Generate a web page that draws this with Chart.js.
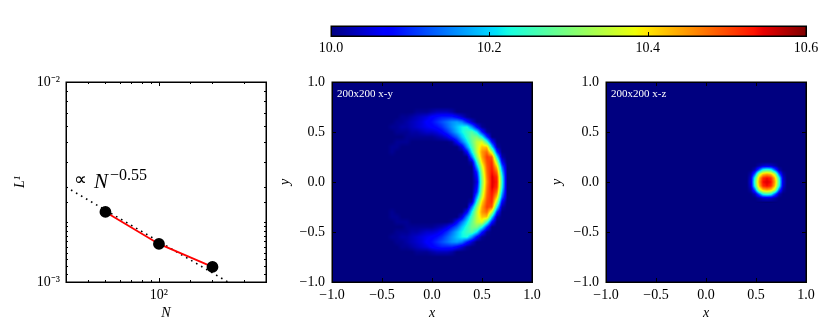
<!DOCTYPE html>
<html>
<head>
<meta charset="utf-8">
<title>L1 convergence and slices</title>
<script src="https://cdn.jsdelivr.net/npm/chart.js@4"></script>
<style>
  body { margin: 0; background: #fff; }
  canvas { position: absolute; }
</style>
</head>
<body>
<canvas id="cbar" width="530" height="60" style="left:300px;top:10px"></canvas>
<canvas id="conv" width="280" height="272" style="left:0;top:60px"></canvas>
<canvas id="xy" width="280" height="272" style="left:270px;top:60px"></canvas>
<canvas id="xz" width="285" height="272" style="left:545px;top:60px"></canvas>
<script>
// convergence panel
const resolutions = [50, 100, 200];
const l1Errors = [2.24e-3, 1.55e-3, 1.19e-3];
const fitN = [30, 285];
const fitL = [2.985e-3, 0.923e-3];
const convXTicks = [100];
const convXLabels = ['10²'];
const convYTicks = [1e-3, 1e-2];
const convYLabels = ['10⁻³', '10⁻²'];

// colorbar
const cbarTicks = [10, 10.2, 10.4, 10.6];
const cbarLabels = ['10.0', '10.2', '10.4', '10.6'];

// slice panels
const sliceLabels = ['−1.0', '−0.5', '0.0', '0.5', '1.0'];

// x-y slice, hundredths above 10.0
const crescentX = [-0.45,-0.40,-0.35,-0.30,-0.25,-0.20,-0.15,-0.10,-0.05,0,0.05,0.10,0.15,0.20,0.25,0.30,0.35,0.40,0.45,0.50,0.55,0.60,0.65,0.70,0.75];
const crescentY = [0.75,0.70,0.65,0.60,0.55,0.50,0.45,0.40,0.35,0.30,0.25,0.20,0.15,0.10,0.05,0,-0.05,-0.10,-0.15,-0.20,-0.25,-0.30,-0.35,-0.40,-0.45,-0.50,-0.55,-0.60,-0.65,-0.70,-0.75];
const crescentRows = [
  [0,0,0,0,0,0,0,0,0,0,0,0,0,0,0,0,0,0,0,0,0,0,0,0,0],
  [0,0,0,0,0,0,1,1,1,2,3,3,3,2,0,0,0,0,0,0,0,0,0,0,0],
  [0,0,0,1,1,2,3,4,5,7,8,9,9,9,7,4,1,0,0,0,0,0,0,0,0],
  [0,0,1,1,2,3,4,5,7,8,10,12,14,16,17,15,9,4,0,0,0,0,0,0,0],
  [0,1,1,2,2,3,4,5,6,7,8,10,13,16,19,22,23,16,7,1,0,0,0,0,0],
  [0,0,1,1,1,2,2,3,4,4,5,7,10,14,18,22,25,27,21,9,1,0,0,0,0],
  [0,0,0,0,1,1,1,1,1,1,2,3,5,9,13,19,24,29,30,23,10,0,0,0,0],
  [0,0,1,1,1,0,0,0,0,0,0,0,0,1,7,14,21,28,35,37,25,8,0,0,0],
  [0,1,1,0,0,0,0,0,0,0,0,0,0,0,0,5,16,26,35,42,42,20,2,0,0],
  [0,1,0,0,0,0,0,0,0,0,0,0,0,0,0,0,7,22,35,45,48,35,10,0,0],
  [0,0,0,0,0,0,0,0,0,0,0,0,0,0,0,0,0,14,31,44,51,49,22,2,0],
  [0,0,0,0,0,0,0,0,0,0,0,0,0,0,0,0,0,3,24,41,50,52,33,7,0],
  [0,0,0,0,0,0,0,0,0,0,0,0,0,0,0,0,0,0,17,36,49,53,42,14,1],
  [0,0,0,0,0,0,0,0,0,0,0,0,0,0,0,0,0,0,10,33,48,54,48,19,1],
  [0,0,0,0,0,0,0,0,0,0,0,0,0,0,0,0,0,0,7,31,47,55,52,23,1],
  [0,0,0,0,0,0,0,0,0,0,0,0,0,0,0,0,0,0,5,30,46,55,53,24,1],
  [0,0,0,0,0,0,0,0,0,0,0,0,0,0,0,0,0,0,7,31,47,55,52,23,1],
  [0,0,0,0,0,0,0,0,0,0,0,0,0,0,0,0,0,0,10,33,48,54,48,19,1],
  [0,0,0,0,0,0,0,0,0,0,0,0,0,0,0,0,0,0,17,36,49,53,42,14,1],
  [0,0,0,0,0,0,0,0,0,0,0,0,0,0,0,0,0,3,24,41,50,52,33,7,0],
  [0,0,0,0,0,0,0,0,0,0,0,0,0,0,0,0,0,14,31,44,51,49,22,2,0],
  [0,1,0,0,0,0,0,0,0,0,0,0,0,0,0,0,7,22,35,45,48,35,10,0,0],
  [0,1,1,0,0,0,0,0,0,0,0,0,0,0,0,5,16,26,35,42,42,20,2,0,0],
  [0,0,1,1,1,0,0,0,0,0,0,0,0,1,7,14,21,28,35,37,25,8,0,0,0],
  [0,0,0,0,1,1,1,1,1,1,2,3,5,9,13,19,24,29,30,23,10,0,0,0,0],
  [0,0,1,1,1,2,2,3,4,4,5,7,10,14,18,22,25,27,21,9,1,0,0,0,0],
  [0,1,1,2,2,3,4,5,6,7,8,10,13,16,19,22,23,16,7,1,0,0,0,0,0],
  [0,0,1,1,2,3,4,5,7,8,10,12,14,16,17,15,9,4,0,0,0,0,0,0,0],
  [0,0,0,1,1,2,3,4,5,7,8,9,9,9,7,4,1,0,0,0,0,0,0,0,0],
  [0,0,0,0,0,0,1,1,1,2,3,3,3,2,0,0,0,0,0,0,0,0,0,0,0],
  [0,0,0,0,0,0,0,0,0,0,0,0,0,0,0,0,0,0,0,0,0,0,0,0,0]
];

// x-z slice
const blobX = [0.41,0.45,0.49,0.53,0.57,0.61,0.65,0.69,0.73,0.77,0.81];
const blobY = [0.20,0.16,0.12,0.08,0.04,0,-0.04,-0.08,-0.12,-0.16,-0.20];
const blobRows = [
  [0,0,0,0,0,0,0,0,0,0,0],
  [0,0,0,2,4,5,4,2,0,0,0],
  [0,0,3,13,24,26,24,13,3,0,0],
  [0,2,13,34,42,44,42,34,13,2,0],
  [0,4,24,42,52,54,52,42,24,4,0],
  [0,5,26,44,54,55,54,44,26,5,0],
  [0,4,24,42,52,54,52,42,24,4,0],
  [0,2,13,34,42,44,42,34,13,2,0],
  [0,0,3,13,24,26,24,13,3,0,0],
  [0,0,0,2,4,5,4,2,0,0,0],
  [0,0,0,0,0,0,0,0,0,0,0]
];

const SERIF = '"Liberation Serif", serif';

// matplotlib jet
function ramp(t, pts) {
  for (let i = 1; i < pts.length; i++) {
    if (t <= pts[i][0]) {
      const a = pts[i-1], b = pts[i];
      return a[1] + (b[1]-a[1]) * (t-a[0]) / (b[0]-a[0]);
    }
  }
  return pts[pts.length-1][1];
}
function jet(t) {
  return [
    255 * ramp(t, [[0,0],[0.35,0],[0.66,1],[0.89,1],[1,0.5]]),
    255 * ramp(t, [[0,0],[0.125,0],[0.375,1],[0.64,1],[0.91,0],[1,0]]),
    255 * ramp(t, [[0,0.5],[0.11,1],[0.34,1],[0.65,0],[1,0]])
  ];
}

function cellsFrom(xs, ys, rows) {
  const cells = [];
  ys.forEach((y, j) => xs.forEach((x, i) => cells.push({x: x, y: y, v: 10 + rows[j][i] / 100})));
  return cells;
}

function sameValue(a, b) {
  return Math.abs(a - b) < Math.abs(b) * 1e-6 + 1e-9;
}

// paints the cells of dataset 0 at the positions the scales gave them
const heatPlugin = {
  id: 'heat',
  beforeDatasetsDraw(chart, args, opts) {
    if (!opts.nx) return;
    const ctx = chart.ctx, area = chart.chartArea;
    const meta = chart.getDatasetMeta(0).data;
    const cells = chart.data.datasets[0].data;
    const nx = opts.nx, ny = cells.length / nx;
    const x0 = meta[0].x, y0 = meta[0].y;
    const dx = meta[1].x - x0, dy = meta[nx].y - y0;
    const w = Math.ceil(dx * (nx-1)), h = Math.ceil(dy * (ny-1));
    const off = document.createElement('canvas');
    off.width = w; off.height = h;
    const octx = off.getContext('2d');
    const img = octx.createImageData(w, h);
    for (let py = 0; py < h; py++) {
      for (let px = 0; px < w; px++) {
        const u = (px + 0.5) / dx, v = (py + 0.5) / dy;
        const i = Math.min(Math.floor(u), nx-2), j = Math.min(Math.floor(v), ny-2);
        const fu = u - i, fv = v - j;
        const val = (cells[j*nx+i].v*(1-fu) + cells[j*nx+i+1].v*fu)*(1-fv)
                  + (cells[(j+1)*nx+i].v*(1-fu) + cells[(j+1)*nx+i+1].v*fu)*fv;
        const c = jet((val - 10) / 0.6);
        const k = (py*w + px) * 4;
        img.data[k] = c[0]; img.data[k+1] = c[1]; img.data[k+2] = c[2]; img.data[k+3] = 255;
      }
    }
    octx.putImageData(img, 0, 0);
    const bg = jet(0);
    ctx.save();
    ctx.fillStyle = 'rgb(' + bg.join(',') + ')';
    ctx.fillRect(area.left, area.top, area.right-area.left, area.bottom-area.top);
    ctx.beginPath();
    ctx.rect(area.left, area.top, area.right-area.left, area.bottom-area.top);
    ctx.clip();
    ctx.filter = 'blur(0.6px)';
    ctx.drawImage(off, x0, y0);
    ctx.restore();
  }
};

// inward ticks on all four sides, frame, and text inside the axes
const framePlugin = {
  id: 'frame',
  afterDraw(chart, args, opts) {
    const ctx = chart.ctx, a = chart.chartArea;
    ctx.save();
    ctx.strokeStyle = '#000';
    ctx.lineWidth = 1;
    ctx.beginPath();
    chart.scales.x.ticks.forEach((t) => {
      const lg = Math.log10(t.value);
      const len = opts.logX && Math.abs(lg - Math.round(lg)) > 1e-6 ? 2 : 4;
      const p = Math.round(chart.scales.x.getPixelForValue(t.value)) + 0.5;
      ctx.moveTo(p, a.bottom); ctx.lineTo(p, a.bottom - len);
      if (!opts.bottomOnly) { ctx.moveTo(p, a.top); ctx.lineTo(p, a.top + len); }
    });
    if (!opts.bottomOnly) {
      chart.scales.y.ticks.forEach((t) => {
        const lg = Math.log10(t.value);
        const len = opts.logY && Math.abs(lg - Math.round(lg)) > 1e-6 ? 2 : 4;
        const p = Math.round(chart.scales.y.getPixelForValue(t.value)) + 0.5;
        ctx.moveTo(a.left, p); ctx.lineTo(a.left + len, p);
        ctx.moveTo(a.right, p); ctx.lineTo(a.right - len, p);
      });
    }
    ctx.stroke();
    ctx.lineWidth = 1.5;
    ctx.strokeRect(a.left + 0.25, a.top + 0.25, a.right - a.left, a.bottom - a.top);
    (opts.texts || []).forEach((t) => {
      ctx.font = t.font;
      ctx.fillStyle = t.color || '#000';
      ctx.textBaseline = 'alphabetic';
      ctx.fillText(t.text, a.left + t.dx, a.top + t.dy);
    });
    ctx.restore();
  }
};

function tickFont() {
  return { family: SERIF, size: 14 };
}
function axisTitle(text, pad) {
  return { display: true, text: text, color: '#000', font: { family: SERIF, size: 14, style: 'italic' },
           padding: { top: pad, bottom: pad } };
}

function sliceChart(id, xs, ys, rows, name, yAxisWidth, rightPad, yTitlePad) {
  return new Chart(document.getElementById(id), {
    type: 'scatter',
    data: { datasets: [{ data: cellsFrom(xs, ys, rows), pointRadius: 0, pointHoverRadius: 0 }] },
    plugins: [heatPlugin, framePlugin],
    options: {
      responsive: false, animation: false,
      events: [],
      layout: { padding: { left: 0, right: rightPad, top: 22, bottom: 0 } },
      plugins: {
        legend: { display: false }, tooltip: { enabled: false },
        heat: { nx: xs.length },
        frame: { texts: [{ text: name, dx: 5, dy: 15, color: '#fff', font: '11px ' + SERIF }] }
      },
      scales: {
        x: {
          type: 'linear', min: -1, max: 1,
          afterFit(s) { s.height = 50; },
          grid: { display: false, drawTicks: false }, border: { display: false },
          ticks: { stepSize: 0.5, color: '#000', font: tickFont(), padding: 5, maxRotation: 0,
                   callback: (v, i) => sliceLabels[i] },
          title: axisTitle('x', 10)
        },
        y: {
          type: 'linear', min: -1, max: 1,
          afterFit(s) { s.width = yAxisWidth; },
          grid: { display: false, drawTicks: false }, border: { display: false },
          ticks: { stepSize: 0.5, color: '#000', font: tickFont(), padding: 7,
                   callback: (v, i) => sliceLabels[i] },
          title: axisTitle('y', yTitlePad)
        }
      }
    }
  });
}

// colorbar: one floating bar filled with the colormap
new Chart(document.getElementById('cbar'), {
  type: 'bar',
  data: {
    labels: [''],
    datasets: [{
      data: [[cbarTicks[0], cbarTicks[cbarTicks.length-1]]],
      barPercentage: 1, categoryPercentage: 1,
      backgroundColor(c) {
        const area = c.chart.chartArea;
        if (!area) return '#00007f';
        const g = c.chart.ctx.createLinearGradient(area.left, 0, area.right, 0);
        for (let i = 0; i <= 100; i++) {
          g.addColorStop(i/100, 'rgb(' + jet(i/100).map(Math.round).join(',') + ')');
        }
        return g;
      }
    }]
  },
  plugins: [framePlugin],
  options: {
    indexAxis: 'y',
    responsive: false, animation: false,
    events: [],
    layout: { padding: { left: 31, right: 24, top: 16, bottom: 0 } },
    plugins: { legend: { display: false }, tooltip: { enabled: false }, frame: { bottomOnly: true } },
    scales: {
      x: {
        type: 'linear', min: 10, max: 10.6,
        afterFit(s) { s.height = 34; },
        grid: { display: false, drawTicks: false }, border: { display: false },
        ticks: { stepSize: 0.2, color: '#000', font: tickFont(), padding: 4, maxRotation: 0,
                 callback: (v, i) => cbarLabels[i] }
      },
      y: { display: false }
    }
  }
});

// L1 error against resolution
new Chart(document.getElementById('conv'), {
  type: 'scatter',
  data: {
    datasets: [
      {
        data: resolutions.map((n, i) => ({ x: n, y: l1Errors[i] })),
        showLine: true, borderColor: '#ff0000', borderWidth: 1.8,
        pointBackgroundColor: '#000', pointBorderColor: '#000', pointRadius: 5
      },
      {
        data: fitN.map((n, i) => ({ x: n, y: fitL[i] })),
        showLine: true, borderColor: '#000', borderWidth: 1.6, borderDash: [1.6, 4.2],
        pointRadius: 0
      }
    ]
  },
  plugins: [framePlugin],
  options: {
    responsive: false, animation: false,
    events: [],
    layout: { padding: { left: 0, right: 14, top: 22, bottom: 0 } },
    plugins: {
      legend: { display: false }, tooltip: { enabled: false },
      frame: {
        logX: true, logY: true,
        texts: [
          { text: '∝', dx: 8, dy: 103, font: '18px ' + SERIF },
          { text: 'N', dx: 28, dy: 106, font: 'italic 21px ' + SERIF },
          { text: '−0.55', dx: 44, dy: 98, font: '16px ' + SERIF }
        ]
      }
    },
    scales: {
      x: {
        type: 'logarithmic', min: 30, max: 400,
        afterFit(s) { s.height = 50; },
        grid: { display: false, drawTicks: false }, border: { display: false },
        ticks: { color: '#000', font: tickFont(), padding: 5, autoSkip: false, maxRotation: 0,
                 callback(v) { const i = convXTicks.findIndex((t) => sameValue(v, t)); return i < 0 ? '' : convXLabels[i]; } },
        title: axisTitle('N', 10)
      },
      y: {
        type: 'logarithmic', min: 1e-3, max: 1e-2,
        afterFit(s) { s.width = 66; },
        grid: { display: false, drawTicks: false }, border: { display: false },
        ticks: { color: '#000', font: tickFont(), padding: 6, autoSkip: false,
                 callback(v) { const i = convYTicks.findIndex((t) => sameValue(v, t)); return i < 0 ? '' : convYLabels[i]; } },
        title: axisTitle('L¹', 12)
      }
    }
  }
});

sliceChart('xy', crescentX, crescentY, crescentRows, '200x200 x-y', 62, 18, 7);
sliceChart('xz', blobX, blobY, blobRows, '200x200 x-z', 61, 24, 4);
</script>
</body>
</html>
